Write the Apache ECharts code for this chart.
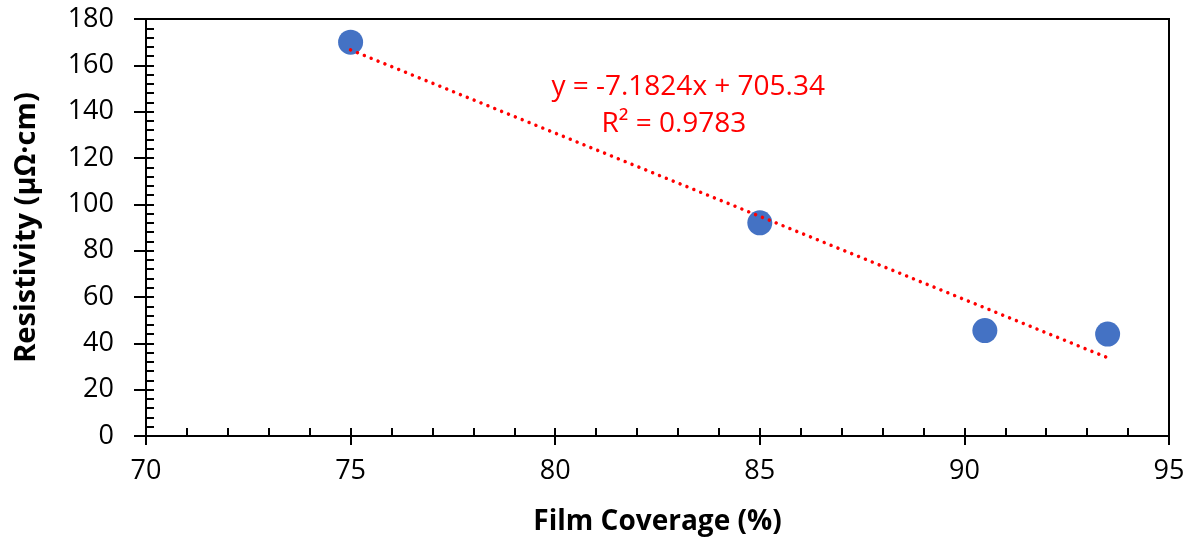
<!DOCTYPE html>
<html><head><meta charset="utf-8">
<script src="https://cdn.jsdelivr.net/npm/echarts@6/dist/echarts.min.js"></script>
<style>html,body{margin:0;padding:0;background:#fff}#c{width:1191px;height:542px}</style>
</head><body><div id="c"></div>
<script>
const coverage = [75, 85, 90.5, 93.5];
const resistivity = [170, 92, 45.5, 44];
const trendSlope = -7.1824;
const trendIntercept = 705.34;
const trendRange = [75, 93.5];
const eqText = 'y = -7.1824x + 705.34';
const r2Text = 'R² = 0.9783';
const xTitle = 'Film Coverage (%)';
const yTitle = 'Resistivity (μΩ·cm)';

const FONT = '"Open Sans", "Liberation Sans", sans-serif';
const pts = coverage.map((x, i) => [x, resistivity[i]]);
const trend = trendRange.map(x => [x, trendSlope * x + trendIntercept]);

const chart = echarts.init(document.getElementById('c'), null, {renderer: 'canvas'});
chart.setOption({
  animation: false,
  grid: {left: 146, right: 22, top: 19, bottom: 106, show: true, borderColor: '#000', borderWidth: 2, containLabel: false},
  xAxis: [{
    type: 'value', min: 70, max: 95, interval: 5,
    name: xTitle, nameLocation: 'middle', nameGap: 72,
    nameTextStyle: {fontFamily: FONT, fontSize: 28, fontWeight: 'bold', color: '#000'},
    axisLine: {lineStyle: {color: '#000', width: 2}},
    axisTick: {show: true, inside: false, length: 9, lineStyle: {color: '#000', width: 2}},
    axisLabel: {fontFamily: FONT, fontSize: 27, color: '#000', margin: 22},
    splitLine: {show: false}
  }, {
    type: 'value', min: 70, max: 95, interval: 1, position: 'bottom',
    axisLine: {show: false},
    axisTick: {show: true, inside: true, length: 8, lineStyle: {color: '#000', width: 2}},
    axisLabel: {show: false}, splitLine: {show: false}
  }],
  yAxis: [{
    type: 'value', min: 0, max: 180, interval: 20,
    name: yTitle, nameLocation: 'middle', nameGap: 105, nameRotate: 90,
    nameTextStyle: {fontFamily: FONT, fontSize: 29, fontWeight: 'bold', color: '#000'},
    axisLine: {show: true, lineStyle: {color: '#000', width: 2}},
    axisTick: {show: true, inside: false, length: 12, lineStyle: {color: '#000', width: 2}},
    axisLabel: {fontFamily: FONT, fontSize: 27, color: '#000', margin: 32},
    splitLine: {show: false}
  }, {
    type: 'value', min: 0, max: 180, interval: 4, position: 'left',
    axisLine: {show: false},
    axisTick: {show: true, inside: true, length: 8, lineStyle: {color: '#000', width: 2}},
    axisLabel: {show: false}, splitLine: {show: false}
  }],
  series: [{
    type: 'scatter', data: pts, symbolSize: 25,
    itemStyle: {color: '#4472C4', opacity: 1}, z: 2
  }, {
    type: 'line', data: trend, showSymbol: false, symbol: 'none',
    lineStyle: {color: '#FF0000', width: 3.5, type: [0.01, 7.4], cap: 'round'},
    z: 3,
    markPoint: {
      symbol: 'circle', symbolSize: 0,
      data: [{coord: [83.25, 150.5], value: eqText}, {coord: [82.9, 134.5], value: r2Text}],
      label: {show: true, position: 'inside', formatter: p => p.value, fontFamily: FONT, fontSize: 28, color: '#FF0000'}
    }
  }]
});
</script></body></html>
